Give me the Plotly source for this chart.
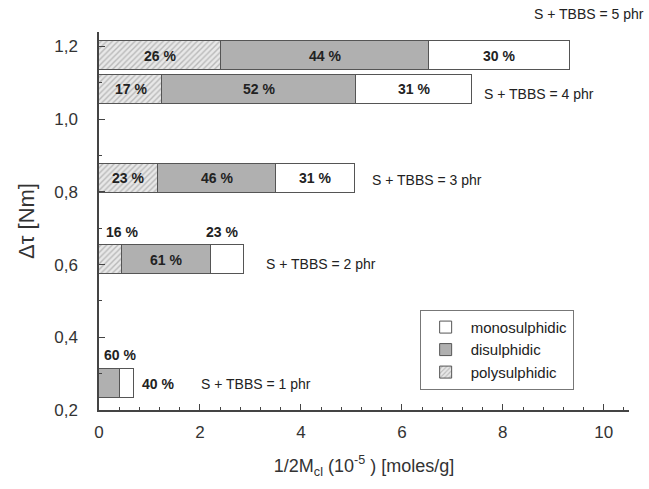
import plotly.graph_objects as go

# Data
levels = ["1 phr", "2 phr", "3 phr", "4 phr", "5 phr"]
delta_tau = [0.272, 0.613, 0.838, 1.083, 1.175]          # y positions (Nm)
total_crosslink = [0.69, 2.87, 5.07, 7.39, 9.33]         # 1/2Mc total (1e-5 moles/g)
poly_pct = [0, 16, 23, 17, 26]
di_pct = [60, 61, 46, 52, 44]
mono_pct = [40, 23, 31, 31, 30]

poly_val = [t * p / 100 for t, p in zip(total_crosslink, poly_pct)]
di_val = [t * p / 100 for t, p in zip(total_crosslink, di_pct)]
mono_val = [t * p / 100 for t, p in zip(total_crosslink, mono_pct)]

FONT = "Liberation Sans, Arial, sans-serif"
edge = dict(color="#555555", width=1)
bar_w = 0.08

fig = go.Figure()
fig.add_trace(go.Bar(
    y=delta_tau, x=poly_val, orientation="h", width=bar_w, name="polysulphidic",
    marker=dict(color="#e4e4e4", line=edge,
                pattern=dict(shape="/", fgcolor="#8a8a8a", bgcolor="#e8e8e8", size=4, solidity=0.35)),
    hoverinfo="skip"))
fig.add_trace(go.Bar(
    y=delta_tau, x=di_val, orientation="h", width=bar_w, name="disulphidic",
    marker=dict(color="#b0b0b0", line=edge), hoverinfo="skip"))
fig.add_trace(go.Bar(
    y=delta_tau, x=mono_val, orientation="h", width=bar_w, name="monosulphidic",
    marker=dict(color="white", line=edge), hoverinfo="skip"))

annots = []
lab_font = dict(family=FONT, size=14, color="#222222")
# Inside labels for the three largest bars
for i in [2, 3, 4]:
    p, d, m = poly_val[i], di_val[i], mono_val[i]
    y = delta_tau[i]
    annots.append(dict(x=p / 2, y=y, text=f"<b>{poly_pct[i]} %</b>", showarrow=False, font=lab_font))
    annots.append(dict(x=p + d / 2, y=y, text=f"<b>{di_pct[i]} %</b>", showarrow=False, font=lab_font))
    annots.append(dict(x=p + d + m / 2, y=y, text=f"<b>{mono_pct[i]} %</b>", showarrow=False, font=lab_font))

# 2 phr bar
i = 1
y = delta_tau[i]
annots.append(dict(x=poly_val[i] + di_val[i] / 2, y=y, text=f"<b>{di_pct[i]} %</b>", showarrow=False, font=lab_font))
annots.append(dict(x=0.1, y=y + 0.078, text=f"<b>{poly_pct[i]} %</b>", showarrow=False, font=lab_font, xanchor="left"))
annots.append(dict(x=poly_val[i] + di_val[i] + mono_val[i] / 2 - 0.1, y=y + 0.078,
                   text=f"<b>{mono_pct[i]} %</b>", showarrow=False, font=lab_font))
# 1 phr bar
i = 0
y = delta_tau[i]
annots.append(dict(x=0.05, y=y + 0.08, text=f"<b>{di_pct[i]} %</b>", showarrow=False, font=lab_font, xanchor="left"))
annots.append(dict(x=total_crosslink[i] + 0.12, y=y, text=f"<b>{mono_pct[i]} %</b>", showarrow=False, font=lab_font, xanchor="left"))

# Side labels
side_font = dict(family=FONT, size=14, color="#222222")
side_dx = [1.3, 0.4, 0.3, 0.2]
side_dy = [0.0, -0.01, -0.005, -0.013]
for i in range(4):
    annots.append(dict(x=total_crosslink[i] + side_dx[i], y=delta_tau[i] + side_dy[i],
                       text=f"S + TBBS = {levels[i]}", showarrow=False, font=side_font,
                       xanchor="left"))
# top label sits above the plot area
annots.append(dict(x=total_crosslink[4] - 0.75, y=1.048, yref="paper",
                   text=f"S + TBBS = {levels[4]}", showarrow=False, font=side_font,
                   xanchor="left", yanchor="middle"))

fig.update_layout(
    barmode="stack",
    width=649, height=489,
    margin=dict(l=99, r=20, t=32, b=79),
    paper_bgcolor="white", plot_bgcolor="white",
    separators=",.",
    font=dict(family=FONT, color="#333333"),
    annotations=annots,
    showlegend=True,
    legend=dict(x=0.605, y=0.265, xanchor="left", yanchor="top",
                traceorder="reversed", bordercolor="#777777", borderwidth=1,
                bgcolor="white", font=dict(family=FONT, size=15, color="#222222"),
                itemwidth=40, tracegroupgap=0),
    bargap=0,
)
fig.update_xaxes(
    range=[0, 10.5], dtick=2, tick0=0, ticks="inside", ticklen=6, tickcolor="#444",
    showline=True, linecolor="#444", linewidth=1.5, showgrid=False, zeroline=False,
    tickfont=dict(family=FONT, size=17, color="#333"), ticklabelstandoff=6,
    minor=dict(dtick=0.4, ticks="inside", ticklen=3, tickcolor="#444", showgrid=False),
    title=dict(text="1/2M<sub>cl</sub> (10<sup>-5</sup> ) [moles/g]",
               font=dict(family=FONT, size=18, color="#333"), standoff=18),
)
fig.update_yaxes(
    range=[0.2, 1.24], dtick=0.2, tick0=0.2, ticks="inside", ticklen=6, tickcolor="#444",
    tickformat=".1f",
    showline=True, linecolor="#444", linewidth=1.5, showgrid=False, zeroline=False,
    tickfont=dict(family=FONT, size=17, color="#333"), ticklabelstandoff=16,
    minor=dict(dtick=0.1, ticks="inside", ticklen=3, tickcolor="#444", showgrid=False),
    title=dict(text="Δτ [Nm]", font=dict(family=FONT, size=22, color="#333"), standoff=14),
)

fig.write_html("out.html")
